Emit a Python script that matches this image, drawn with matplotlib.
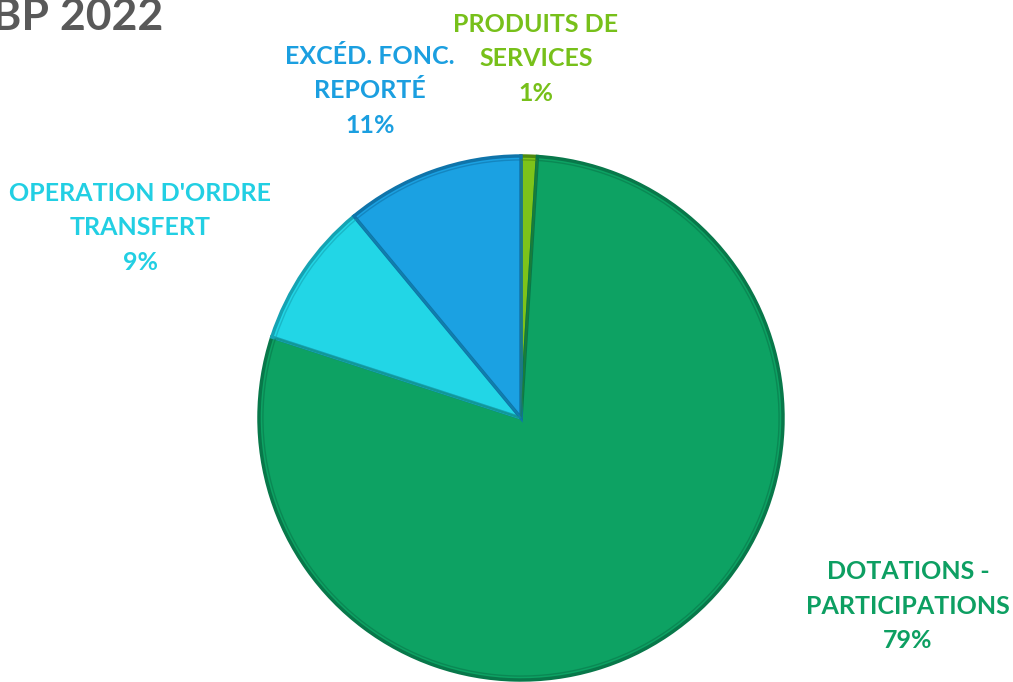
import matplotlib.pyplot as plt

# data
labels = ["PRODUITS DE\nSERVICES", "DOTATIONS -\nPARTICIPATIONS",
          "OPERATION D'ORDRE\nTRANSFERT", "EXCÉD. FONC.\nREPORTÉ"]
values = [1, 79, 9, 11]
colors = ["#7DC31A", "#0DA263", "#22D6E6", "#1BA1E2"]
edges = ["#4E8A0E", "#08784A", "#15A3B3", "#0F74AA"]
text_colors = ["#77C01A", "#0D9F62", "#22CFE3", "#1B9FE0"]
# label centres in pixels (x, y from top)
label_pos = [(536, 59), (908, 606), (140, 228), (370, 91)]

W, H = 1013, 682
fig = plt.figure(figsize=(W / 100, H / 100), dpi=100)
cx, cy, r = 521, 418, 262
ax = fig.add_axes([(cx - r) / W, (H - cy - r) / H, 2 * r / W, 2 * r / H])

wedges, _ = ax.pie(values, colors=colors, startangle=90, counterclock=False,
                   radius=1, wedgeprops=dict(linewidth=2.5))
for w, ec in zip(wedges, edges):
    w.set_edgecolor(ec)
# inner bevel line
inner, _ = ax.pie(values, colors=colors, startangle=90, counterclock=False,
                  radius=0.985, wedgeprops=dict(linewidth=1.0, fill=False))
for w, ec in zip(inner, edges):
    w.set_edgecolor(ec)
    w.set_alpha(0.6)
ax.set_xlim(-1, 1)
ax.set_ylim(-1, 1)
ax.set_aspect("equal")
ax.axis("off")

for lab, v, (px, py), tc in zip(labels, values, label_pos, text_colors):
    fig.text(px / W, 1 - py / H, f"{lab}\n{v}%", ha="center", va="center",
             color=tc, fontsize=18, fontweight="bold", family="Lato",
             linespacing=1.6)

fig.text(-8 / W, 1 - 17 / H, "BP 2022", ha="left", va="center",
         color="#595959", fontsize=32, fontweight="bold", family="Lato")

fig.savefig("out.png", dpi=100)
